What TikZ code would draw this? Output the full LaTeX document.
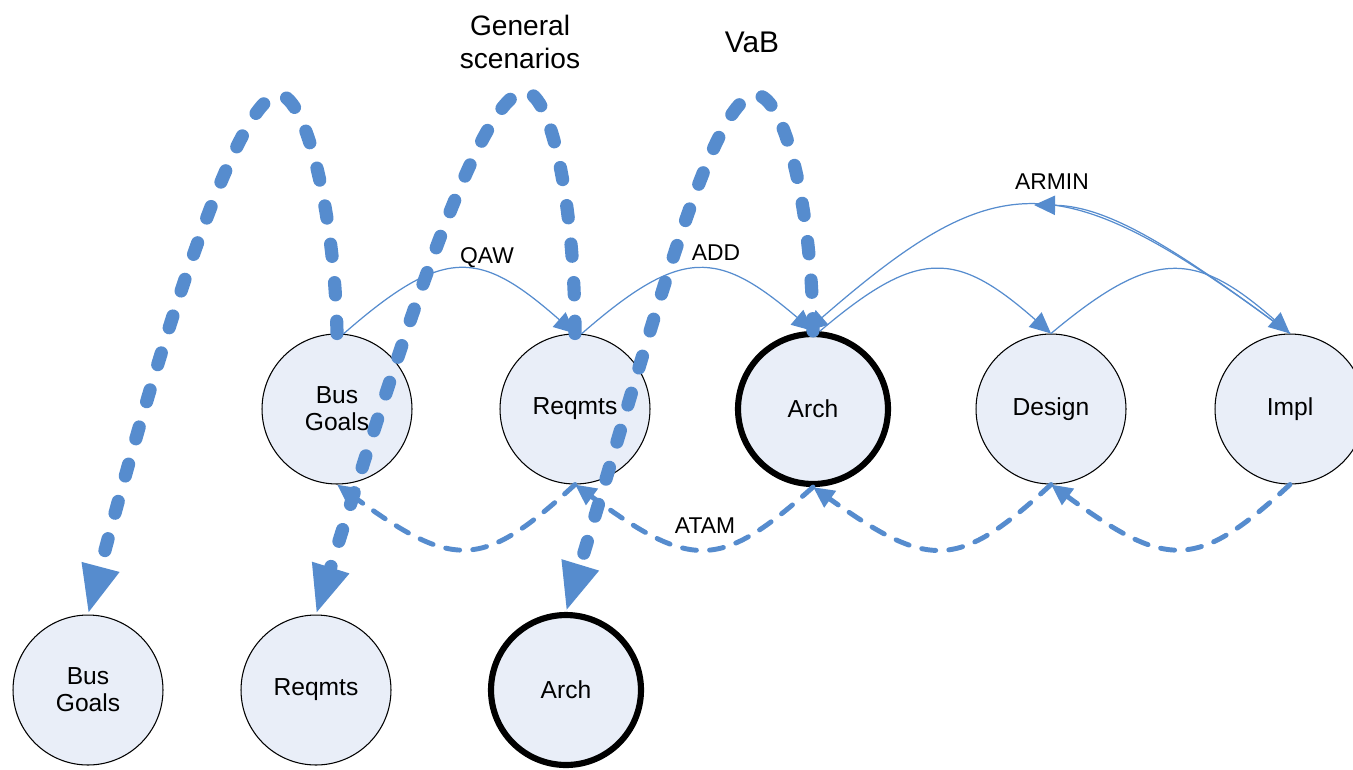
\documentclass[tikz,border=0pt]{standalone}
\usepackage{fontspec}
\setmainfont{Liberation Sans}
\usetikzlibrary{arrows.meta}
\definecolor{arcblue}{RGB}{86,140,206}
\definecolor{nodefill}{RGB}{233,238,248}
\begin{document}
\begin{tikzpicture}[x=0.02cm,y=-0.02cm,
  stage/.style={circle, draw=black, line width=0.6pt, fill=nodefill, minimum size=3cm, inner sep=0pt, align=center, font=\fontsize{14}{15.3}\selectfont},
  archstage/.style={stage, line width=3.5pt},
  bigflow/.style={draw=arcblue, line width=7.5pt, line cap=round, dash pattern=on 7pt off 15pt, -{Triangle[length=28pt,width=20pt]}},
  thinflow/.style={draw=arcblue, line width=0.7pt, -{Triangle[length=12pt,width=11pt]}},
  atamflow/.style={draw=arcblue, line width=2.8pt, line cap=round, dash pattern=on 8pt off 7.5pt, -{Triangle[length=12pt,width=11pt]}},
  lbl/.style={font=\fontsize{13}{15}\selectfont, inner sep=0pt},
  toplbl/.style={font=\fontsize{16}{18.7}\selectfont, align=center, inner sep=0pt}]
\useasboundingbox (0,0) rectangle (1353,769);
\clip (0,0) rectangle (1353,769);

% stages
\node[stage] (BG1) at (337,409) {Bus\\Goals};
\node[stage] (RQ1) at (575,409) {Reqmts};
\node[archstage] (AR1) at (813,409) {Arch};
\node[stage] (DE1) at (1051,409) {Design};
\node[stage] (IM1) at (1290,409) {Impl};
\node[stage] (BG2) at (88,690) {Bus\\Goals};
\node[stage] (RQ2) at (316,690) {Reqmts};
\node[archstage] (AR2) at (566,690) {Arch};

% labels
\node[toplbl] (GS) at (520,42) {General\\scenarios};
\node[toplbl, font=\fontsize{17}{19}\selectfont] (VAB) at (752,42) {VaB};
\node[lbl] (QAW) at (487,258) {QAW};
\node[lbl] (ADD) at (716,253) {ADD};
\node[lbl] (ATAM) at (705,526) {ATAM};
\node[lbl] (ARMIN) at (1052,182) {ARMIN};

% thin method arcs
\draw[thinflow] (BG1.85) .. controls (445,245) and (480,250) .. (RQ1.north);
\draw[thinflow] (RQ1.85) .. controls (682,246) and (718,250) .. (AR1.north);
\draw[thinflow] (AR1.85) .. controls (918,248) and (956,250) .. (DE1.north);
\draw[thinflow] (DE1.north) .. controls (1153,248) and (1195,250) .. (IM1.north);
\draw[thinflow] (IM1.north) .. controls (1060,163) and (1000,163) .. (AR1.95);
\coordinate (armintip) at (1034,205);
\draw[thinflow] (IM1.north) .. controls (1180,252) and (1110,206) .. (armintip);

% ATAM dashed arcs
\draw[atamflow] (RQ1.south) .. controls (482,570) and (454,570) .. (BG1.south);
\draw[atamflow] (AR1.south) .. controls (720,570) and (692,570) .. (RQ1.south);
\draw[atamflow] (DE1.south) .. controls (958,570) and (930,570) .. (AR1.south);
\draw[atamflow] (IM1.south) .. controls (1197,570) and (1168,570) .. (DE1.south);

% big dashed arcs
\draw[bigflow] (BG1.north) .. controls (335,215) and (306,95) .. (279,95) .. controls (240,95) and (169,308) .. (BG2.north);
\draw[bigflow] (RQ1.north) .. controls (575,210) and (552,92) .. (525,92) .. controls (480,92) and (405,330) .. (RQ2.north);
\draw[bigflow] (AR1.north) .. controls (812,210) and (785,95) .. (756,95) .. controls (712,95) and (654,322) .. (AR2.north);
\end{tikzpicture}
\end{document}
